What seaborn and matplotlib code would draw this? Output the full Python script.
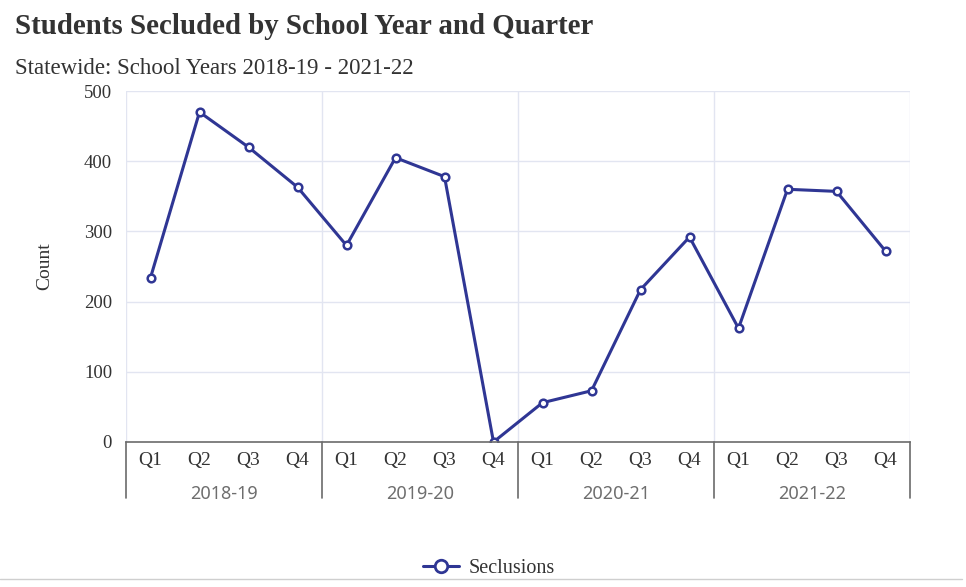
import numpy as np
import pandas as pd
import matplotlib
matplotlib.use("Agg")
import matplotlib.pyplot as plt
import matplotlib.transforms as mtransforms
from matplotlib.lines import Line2D
import seaborn as sns

# Seclusion counts by school year and quarter
years = ["2018-19", "2019-20", "2020-21", "2021-22"]
quarters = ["Q1", "Q2", "Q3", "Q4"]
seclusions = [234, 470, 420, 363,
              280, 405, 378, 0,
              56, 73, 217, 292,
              162, 360, 357, 272]
y_ticks = [0, 100, 200, 300, 400, 500]

series_name = "Seclusions"
line_color = "#2f3694"
grid_color = "#e2e5f1"
axis_color = "#6b6b6b"
serif = ["Liberation Serif", "DejaVu Serif"]

sns.set_theme(style="white")
plt.rcParams["font.family"] = serif

df = pd.DataFrame({
    "pos": np.arange(len(seclusions)),
    "count": seclusions,
})

fig = plt.figure(figsize=(9.66, 5.87), dpi=100)
ax = fig.add_axes([126 / 966, 1 - 442 / 587, 784 / 966, 351 / 587])

sns.lineplot(data=df, x="pos", y="count", ax=ax, color=line_color,
             linewidth=2.2, marker="o", markersize=5.5,
             markerfacecolor="white", markeredgecolor=line_color,
             markeredgewidth=1.8, sort=False, legend=False)

n = len(seclusions)
ax.set_xlim(-0.5, n - 0.5)
ax.set_ylim(0, 500)

# Grid: horizontal lines at each hundred, vertical lines between years
ax.set_yticks(y_ticks)
ax.set_yticklabels([str(v) for v in y_ticks], fontsize=13.5, color="#333333")
for v in y_ticks[1:]:
    ax.axhline(v, color=grid_color, lw=1, zorder=0)
for b in [-0.5, 3.5, 7.5, 11.5, n - 0.5]:
    ax.axvline(b, color=grid_color, lw=1, zorder=0)
ax.tick_params(axis="y", length=0, pad=10)

for side in ["top", "right", "left"]:
    ax.spines[side].set_visible(False)
ax.spines["bottom"].set_color(axis_color)
ax.spines["bottom"].set_linewidth(1.2)

# Quarter ticks sit on category boundaries, labels at centres
ax.set_xticks(np.arange(-0.5, n, 1.0))
ax.set_xticklabels([])
ax.tick_params(axis="x", which="major", length=6, width=1, color=axis_color,
               direction="out")
ax.set_xticks(np.arange(n), minor=True)
ax.set_xticklabels(quarters * len(years), minor=True, fontsize=14,
                   color="#333333")
ax.tick_params(axis="x", which="minor", length=0, pad=7)
ax.set_xlabel("")

# Year group labels and separators below the quarter labels
trans = mtransforms.blended_transform_factory(ax.transData, ax.transAxes)
for i, yr in enumerate(years):
    ax.text(i * 4 + 1.5, -52 / 351, yr, transform=trans, ha="center",
            va="center", fontsize=13, color="#6e6e6e",
            family=["Noto Sans", "DejaVu Sans"])
for b in [-0.5, 3.5, 7.5, 11.5, n - 0.5]:
    ax.plot([b, b], [0, -56 / 351], transform=trans, color=axis_color,
            lw=1.2, clip_on=False)

ax.set_ylabel("Count", fontsize=14, color="#333333")
ax.yaxis.set_label_coords(-73 / 784, 0.5)

# Titles
fig.text(15 / 966, 1 - 27 / 587, "Students Secluded by School Year and Quarter",
         fontsize=20.8, fontweight="bold", color="#333333", va="center",
         ha="left")
fig.text(15 / 966, 1 - 69 / 587, "Statewide: School Years 2018-19 - 2021-22",
         fontsize=16.5, color="#333333", va="center", ha="left")

# Legend
handle = Line2D([], [], color=line_color, lw=2.2, marker="o", markersize=9,
                markerfacecolor="white", markeredgecolor=line_color,
                markeredgewidth=2)
fig.legend([handle], [series_name], loc="center", bbox_to_anchor=(489 / 966, 1 - 568 / 587),
           frameon=False, fontsize=14.5, handlelength=1.8, handletextpad=0.5,
           labelcolor="#333333")

# Thin rule at the bottom edge
fig.add_artist(Line2D([0, 962 / 966], [1 - 579 / 587, 1 - 579 / 587],
                      transform=fig.transFigure, color="#cfcfcf", lw=1))

fig.savefig("out.png", dpi=100, facecolor="white")
